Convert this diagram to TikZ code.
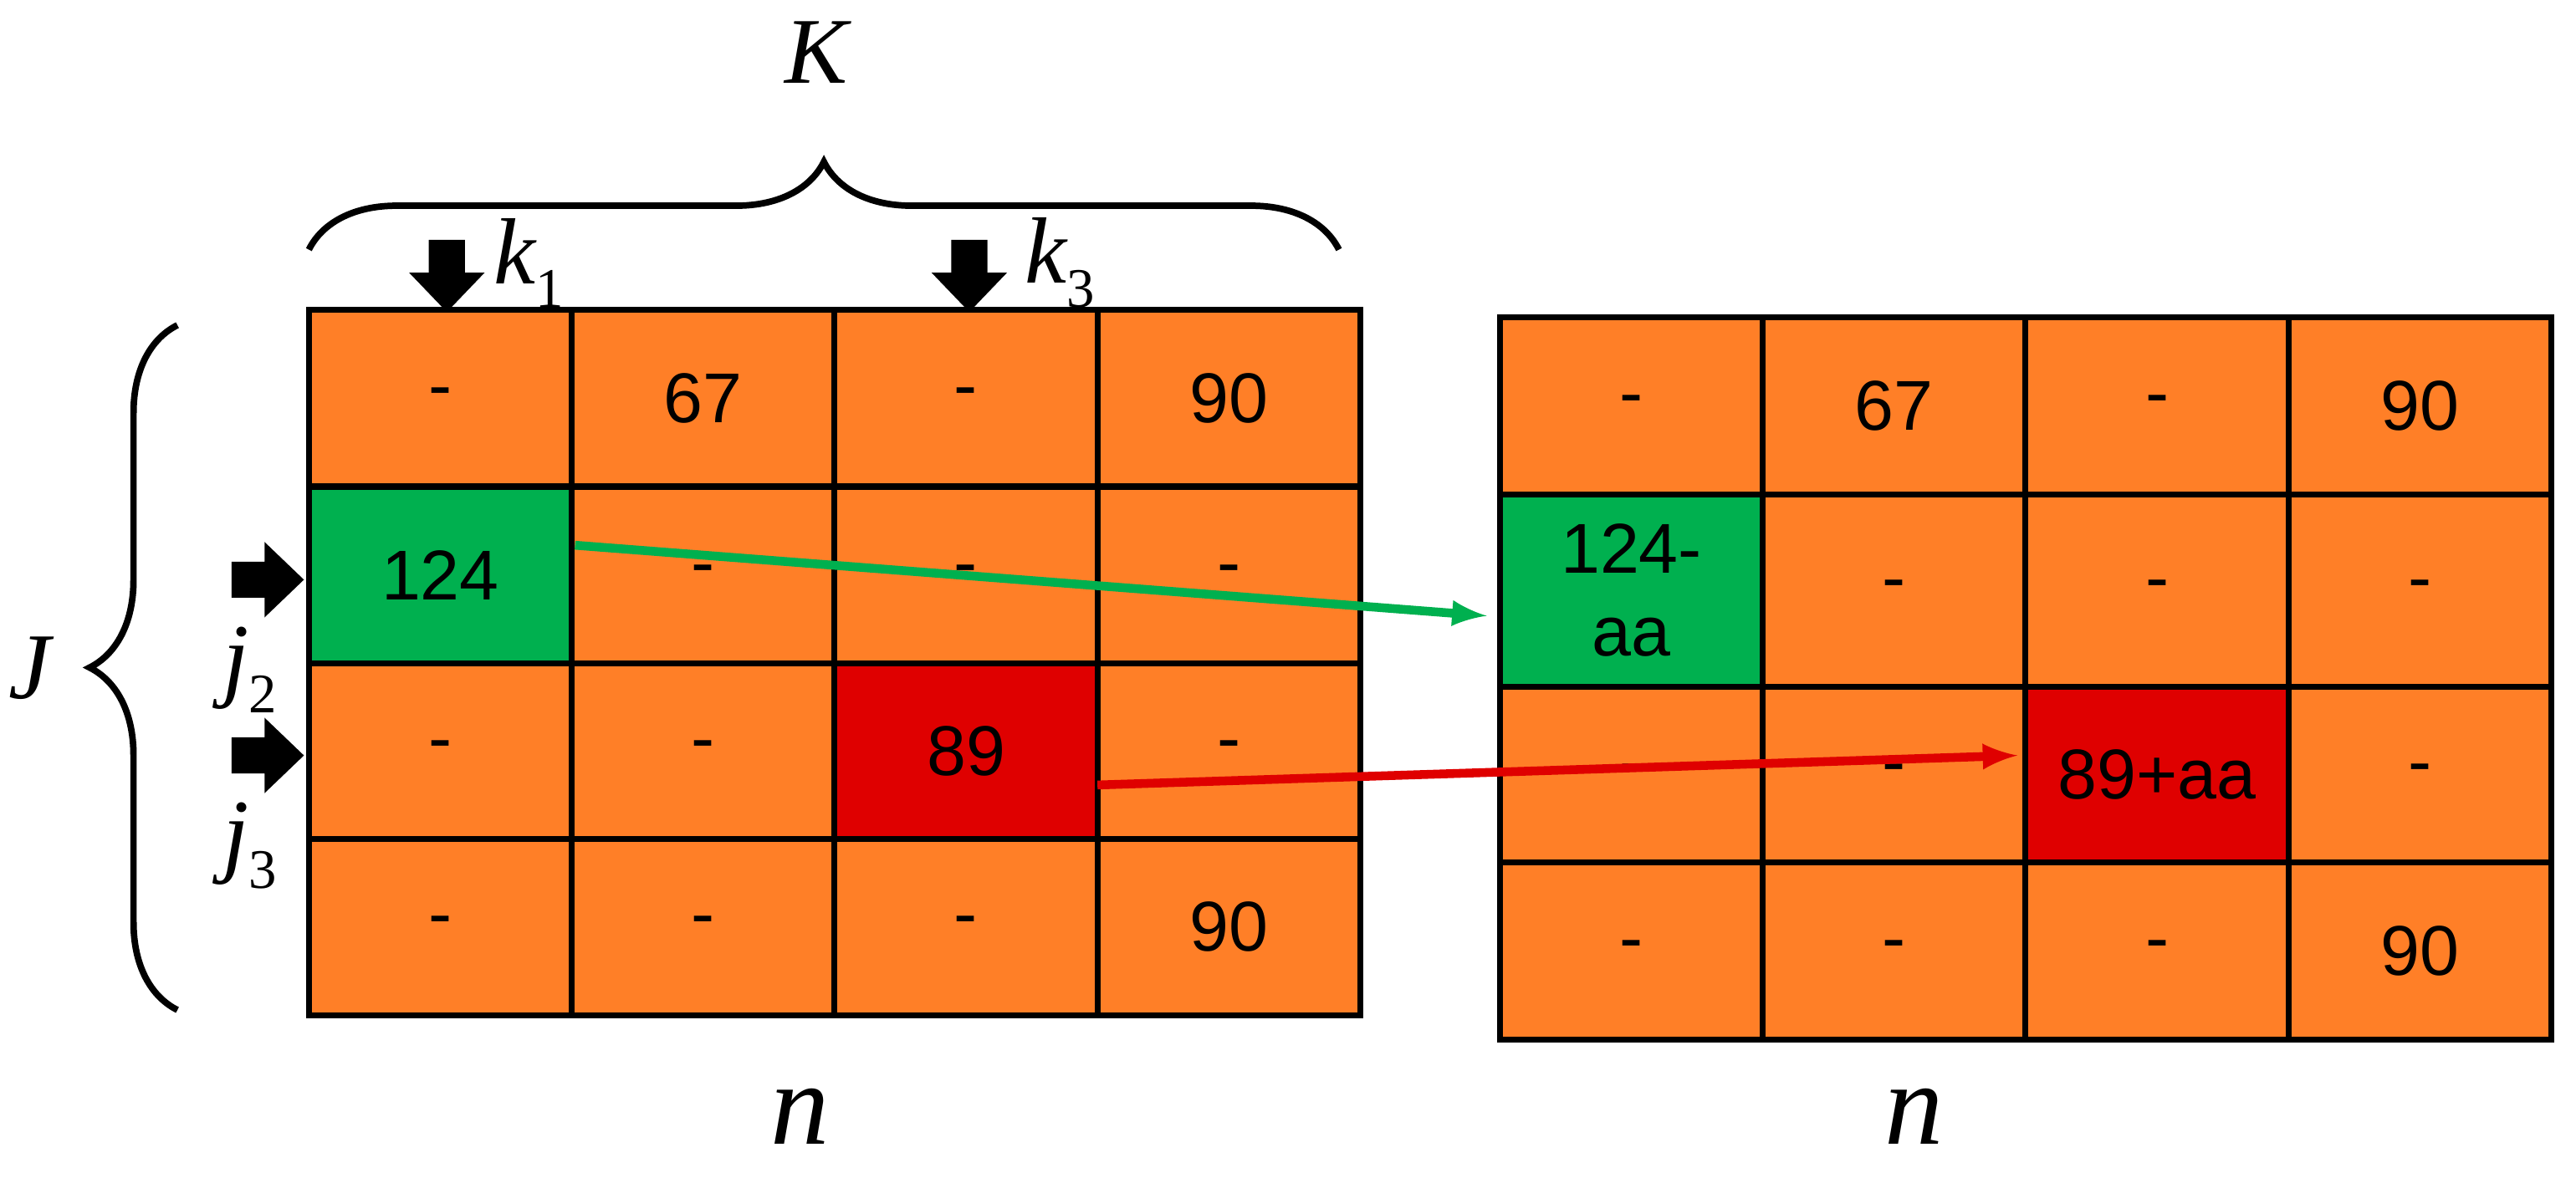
\documentclass[tikz,border=0pt]{standalone}
\usepackage{fontspec}
\setmainfont{Liberation Sans}
\newfontfamily\serifit{Liberation Serif}
\usetikzlibrary{decorations.pathreplacing}
\definecolor{org}{HTML}{FF7F27}
\definecolor{grn}{HTML}{00B04F}
\definecolor{rd}{HTML}{DF0000}
\tikzset{cell/.style={draw=black,line width=2pt,minimum width=3.1428cm,minimum height=2.112cm,inner sep=0pt,font=\fontsize{24}{28}\selectfont,align=center},
 lab/.style={font=\serifit\itshape\fontsize{32}{34}\selectfont},
 blkarrow/.pic={\fill[black] (-11,-22)--(11,-22)--(11,-2)--(23,-2)--(0,22)--(-23,-2)--(-11,-2)--cycle;},
 brc/.style={decorate,decoration={brace,amplitude=1.05cm},line width=2.2pt},
 con/.style={line width=3pt,-latex}}
\begin{document}
\begin{tikzpicture}[x=0.019643cm,y=-0.019643cm]
\useasboundingbox (0,0) rectangle (1568,717);
% left grid
\node[cell,fill=org] at (268,242.5) {-};\node[cell,fill=org] at (428,242.5) {67};
\node[cell,fill=org] at (588,242.5) {-};\node[cell,fill=org] at (748,242.5) {90};
\node[cell,fill=grn] (Lg) at (268,350.5) {124};\node[cell,fill=org] at (428,350.5) {-};
\node[cell,fill=org] at (588,350.5) {-};\node[cell,fill=org] at (748,350.5) {-};
\node[cell,fill=org] at (268,457.5) {-};\node[cell,fill=org] at (428,457.5) {-};
\node[cell,fill=rd] (Lr) at (588,457.5) {89};\node[cell,fill=org] at (748,457.5) {-};
\node[cell,fill=org] at (268,564.5) {-};\node[cell,fill=org] at (428,564.5) {-};
\node[cell,fill=org] at (588,564.5) {-};\node[cell,fill=org] at (748,564.5) {90};
% right grid
\tikzset{rc/.style={cell,fill=org}}
\node[rc,minimum height=2.12cm] at (993,247) {-};\node[rc,minimum height=2.12cm] at (1153,247) {67};
\node[rc,minimum height=2.12cm] at (1313,247) {-};\node[rc,minimum height=2.12cm] at (1473,247) {90};
\node[cell,fill=grn,minimum height=2.3cm] (Rg) at (993,359.5) {124-\\aa};\node[rc,minimum height=2.3cm] at (1153,359.5) {-};
\node[rc,minimum height=2.3cm] at (1313,359.5) {-};\node[rc,minimum height=2.3cm] at (1473,359.5) {-};
\node[rc,minimum height=2.1cm] at (993,471.5) {-};\node[rc,minimum height=2.1cm] at (1153,471.5) {-};
\node[cell,fill=rd,minimum height=2.1cm] (Rr) at (1313,471.5) {89+aa};\node[rc,minimum height=2.1cm] at (1473,471.5) {-};
\node[rc,minimum height=2.12cm] at (993,579) {-};\node[rc,minimum height=2.12cm] at (1153,579) {-};
\node[rc,minimum height=2.12cm] at (1313,579) {-};\node[rc,minimum height=2.12cm] at (1473,579) {90};
% connectors
\coordinate (gs) at (350,332);\coordinate (ge) at (905,375);
\coordinate (rs) at (668,478);\coordinate (re) at (1228,460);
\draw[con,draw=grn] (gs) -- (ge);
\draw[con,draw=rd] (rs) -- (re);
% braces
\draw[brc] (188,152) -- (815,152);
\draw[brc] (108,615) -- (108,198);
\node[lab] (K) at (497,32) {K};
\node[lab] (J) at (18,407) {J};
% block arrows
\pic at (272,168) {blkarrow};
\pic at (590,168) {blkarrow};
\pic[rotate=90] at (163,353) {blkarrow};
\pic[rotate=90] at (163,460) {blkarrow};
\node[lab] at (322,160) {k\raisebox{-0.25em}{\normalfont\serifit\fontsize{19}{19}\selectfont 1}};
\node[lab] at (645,160) {k\raisebox{-0.25em}{\normalfont\serifit\fontsize{19}{19}\selectfont 3}};
\node[lab] at (152,408) {j\raisebox{-0.25em}{\normalfont\serifit\fontsize{19}{19}\selectfont 2}};
\node[lab] at (152,515) {j\raisebox{-0.25em}{\normalfont\serifit\fontsize{19}{19}\selectfont 3}};
\node[lab,font=\serifit\itshape\fontsize{40}{42}\selectfont] at (487,680) {n};
\node[lab,font=\serifit\itshape\fontsize{40}{42}\selectfont] at (1165,680) {n};
\end{tikzpicture}
\end{document}
